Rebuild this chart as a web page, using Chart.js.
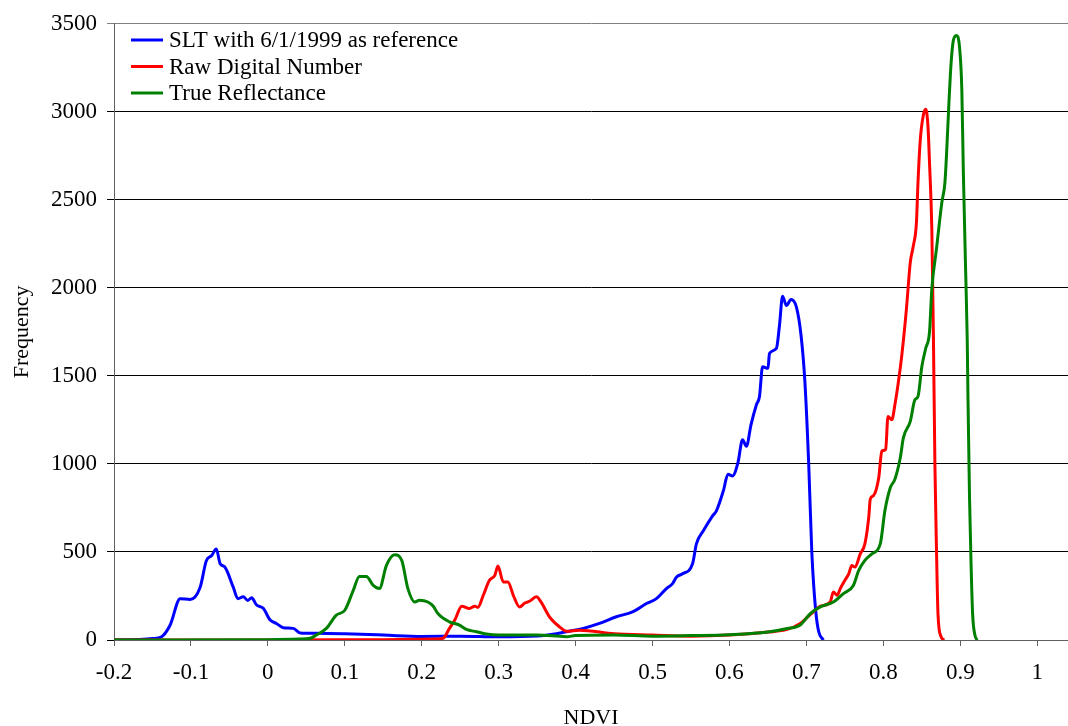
<!DOCTYPE html>
<html>
<head>
<meta charset="utf-8">
<script src="https://cdn.jsdelivr.net/npm/chart.js@4.4.1/dist/chart.umd.min.js"></script>
<style>
  html, body { margin: 0; padding: 0; background: #fff; }
  #wrap { width: 1068px; height: 726px; }
</style>
</head>
<body>
<div id="wrap"><canvas id="ndviChart" width="1068" height="726"></canvas></div>
<script>
// values
var sltNdvi = [-0.2, -0.17, -0.15, -0.138, -0.127, -0.114, -0.101, -0.088, -0.08, -0.073, -0.067, -0.062, -0.056, -0.045, -0.039, -0.032, -0.026, -0.021, -0.015, -0.006, 0.003, 0.011, 0.02, 0.033, 0.042, 0.063, 0.1, 0.15, 0.2, 0.25, 0.3, 0.35, 0.375, 0.388, 0.41, 0.431, 0.453, 0.474, 0.492, 0.505, 0.518, 0.526, 0.531, 0.539, 0.552, 0.557, 0.566, 0.578, 0.583, 0.592, 0.598, 0.604, 0.611, 0.617, 0.622, 0.628, 0.635, 0.639, 0.643, 0.65, 0.652, 0.661, 0.665, 0.669, 0.674, 0.68, 0.687, 0.693, 0.698, 0.703, 0.707, 0.712, 0.716, 0.722];
var sltFreq = [0, 3, 8, 19, 85, 235, 230, 300, 450, 480, 517, 433, 415, 300, 235, 245, 225, 240, 200, 180, 113, 94, 70, 66, 40, 38, 35, 28, 20, 22, 18, 22, 35, 47, 66, 94, 132, 160, 207, 235, 292, 320, 357, 376, 433, 546, 620, 705, 734, 847, 941, 932, 1007, 1138, 1100, 1223, 1336, 1383, 1552, 1543, 1627, 1656, 1788, 1953, 1900, 1934, 1891, 1731, 1468, 997, 500, 169, 47, 0];

var rawNdvi = [-0.2, 0.0, 0.15, 0.22, 0.228, 0.236, 0.243, 0.252, 0.262, 0.269, 0.273, 0.28, 0.288, 0.295, 0.299, 0.306, 0.312, 0.319, 0.327, 0.334, 0.34, 0.349, 0.355, 0.366, 0.379, 0.388, 0.405, 0.45, 0.5, 0.55, 0.6, 0.65, 0.675, 0.692, 0.701, 0.709, 0.718, 0.731, 0.735, 0.74, 0.744, 0.75, 0.755, 0.759, 0.763, 0.77, 0.776, 0.781, 0.783, 0.787, 0.794, 0.798, 0.803, 0.806, 0.811, 0.815, 0.819, 0.824, 0.83, 0.835, 0.839, 0.843, 0.845, 0.848, 0.852, 0.855, 0.858, 0.86, 0.863, 0.865, 0.867, 0.869, 0.871, 0.875, 0.879];
var rawFreq = [0, 0, 2, 5, 10, 66, 113, 192, 179, 192, 185, 254, 339, 367, 420, 330, 330, 254, 188, 210, 220, 245, 216, 132, 75, 50, 56, 35, 28, 22, 28, 45, 60, 94, 128, 160, 192, 216, 273, 254, 292, 339, 376, 423, 414, 489, 546, 696, 800, 819, 922, 1073, 1082, 1270, 1251, 1336, 1449, 1618, 1881, 2145, 2239, 2371, 2597, 2841, 2982, 3015, 2917, 2710, 2333, 1750, 1000, 527, 150, 19, 0];

var trueNdvi = [-0.2, 0.0, 0.04, 0.055, 0.063, 0.076, 0.089, 0.1, 0.111, 0.119, 0.128, 0.137, 0.145, 0.154, 0.165, 0.174, 0.182, 0.191, 0.197, 0.208, 0.215, 0.221, 0.236, 0.249, 0.258, 0.271, 0.284, 0.3, 0.35, 0.388, 0.4, 0.45, 0.5, 0.55, 0.6, 0.65, 0.675, 0.692, 0.705, 0.718, 0.735, 0.748, 0.761, 0.768, 0.776, 0.785, 0.796, 0.802, 0.809, 0.815, 0.822, 0.826, 0.835, 0.841, 0.845, 0.85, 0.855, 0.86, 0.863, 0.869, 0.876, 0.88, 0.882, 0.885, 0.888, 0.891, 0.895, 0.899, 0.902, 0.904, 0.907, 0.909, 0.91, 0.912, 0.914, 0.916, 0.919, 0.922];
var trueFreq = [0, 2, 5, 10, 28, 66, 141, 169, 282, 361, 361, 310, 292, 423, 484, 452, 292, 216, 226, 216, 192, 150, 103, 85, 60, 47, 34, 28, 28, 19, 25, 28, 22, 25, 30, 45, 65, 85, 150, 188, 216, 263, 310, 395, 452, 489, 546, 734, 865, 913, 1035, 1148, 1242, 1364, 1383, 1552, 1656, 1750, 1994, 2220, 2484, 2597, 2747, 3030, 3274, 3406, 3434, 3368, 3124, 2653, 2089, 1712, 1373, 809, 433, 150, 28, 0];

var seriesNames = ['SLT with 6/1/1999 as reference', 'Raw Digital Number', 'True Reflectance'];
var xTicks = [-0.2, -0.1, 0, 0.1, 0.2, 0.3, 0.4, 0.5, 0.6, 0.7, 0.8, 0.9, 1];
var yTicks = [0, 500, 1000, 1500, 2000, 2500, 3000, 3500];

var serif = "'Liberation Serif', 'Times New Roman', serif";

function pts(xs, ys) {
	var out = [];
	for (var i = 0; i < xs.length; i++) out.push({x: xs[i], y: ys[i]});
	return out;
}

// legend drawn inside the plot, Excel style
var cornerLegend = {
	id: 'cornerLegend',
	afterDraw: function (chart) {
		var ctx = chart.ctx;
		ctx.save();
		ctx.font = '23px ' + serif;
		ctx.textBaseline = 'middle';
		ctx.textAlign = 'left';
		chart.data.datasets.forEach(function (ds, i) {
			var y = 40 + i * 26.5;
			ctx.strokeStyle = ds.borderColor;
			ctx.lineWidth = 3;
			ctx.beginPath();
			ctx.moveTo(131, y);
			ctx.lineTo(163, y);
			ctx.stroke();
			ctx.fillStyle = '#000';
			ctx.fillText(ds.label, 169, y + 1);
		});
		ctx.restore();
	}
};

var lineStyle = {borderWidth: 3, pointRadius: 0, cubicInterpolationMode: 'monotone', fill: false};

new Chart(document.getElementById('ndviChart'), {
	type: 'line',
	data: {
		datasets: [
			Object.assign({label: seriesNames[0], data: pts(sltNdvi, sltFreq), borderColor: '#0000ff', order: 3}, lineStyle),
			Object.assign({label: seriesNames[1], data: pts(rawNdvi, rawFreq), borderColor: '#ff0000', order: 2}, lineStyle),
			Object.assign({label: seriesNames[2], data: pts(trueNdvi, trueFreq), borderColor: '#008000', order: 1}, lineStyle)
		]
	},
	options: {
		responsive: false,
		animation: false,
		layout: {padding: {top: 20, right: 0, left: 0, bottom: 0}},
		plugins: {legend: {display: false}, tooltip: {enabled: false}},
		scales: {
			x: {
				type: 'linear',
				min: -0.2,
				max: 1.04,
				afterBuildTicks: function (s) { s.ticks = xTicks.map(function (v) { return {value: v}; }); },
				afterFit: function (s) { s.height = 86; },
				ticks: {
					color: '#000',
					font: {family: serif, size: 23},
					padding: 13,
					maxRotation: 0,
					callback: function (v) { return String(Math.round(v * 10) / 10); }
				},
				grid: {drawOnChartArea: false, drawTicks: true, tickLength: 6, color: '#606060'},
				border: {display: true, color: '#606060', width: 1},
				title: {display: true, text: 'NDVI', color: '#000', font: {family: serif, size: 22}, padding: {top: 0, bottom: -5}}
			},
			y: {
				min: 0,
				max: 3500,
				afterBuildTicks: function (s) { s.ticks = yTicks.map(function (v) { return {value: v}; }); },
				afterFit: function (s) { s.width = 114; },
				ticks: {
					color: '#000',
					font: {family: serif, size: 23},
					padding: 10,
					callback: function (v) { return String(v); }
				},
				grid: {
					color: function (c) { return c.tick && c.tick.value === 3500 ? '#808080' : '#000'; },
					lineWidth: 1, drawTicks: true, tickLength: 7
				},
				border: {display: true, color: '#606060', width: 1},
				title: {display: true, text: 'Frequency', color: '#000', font: {family: serif, size: 22}, padding: {top: 9, bottom: 0}}
			}
		}
	},
	plugins: [cornerLegend]
});
</script>
</body>
</html>
